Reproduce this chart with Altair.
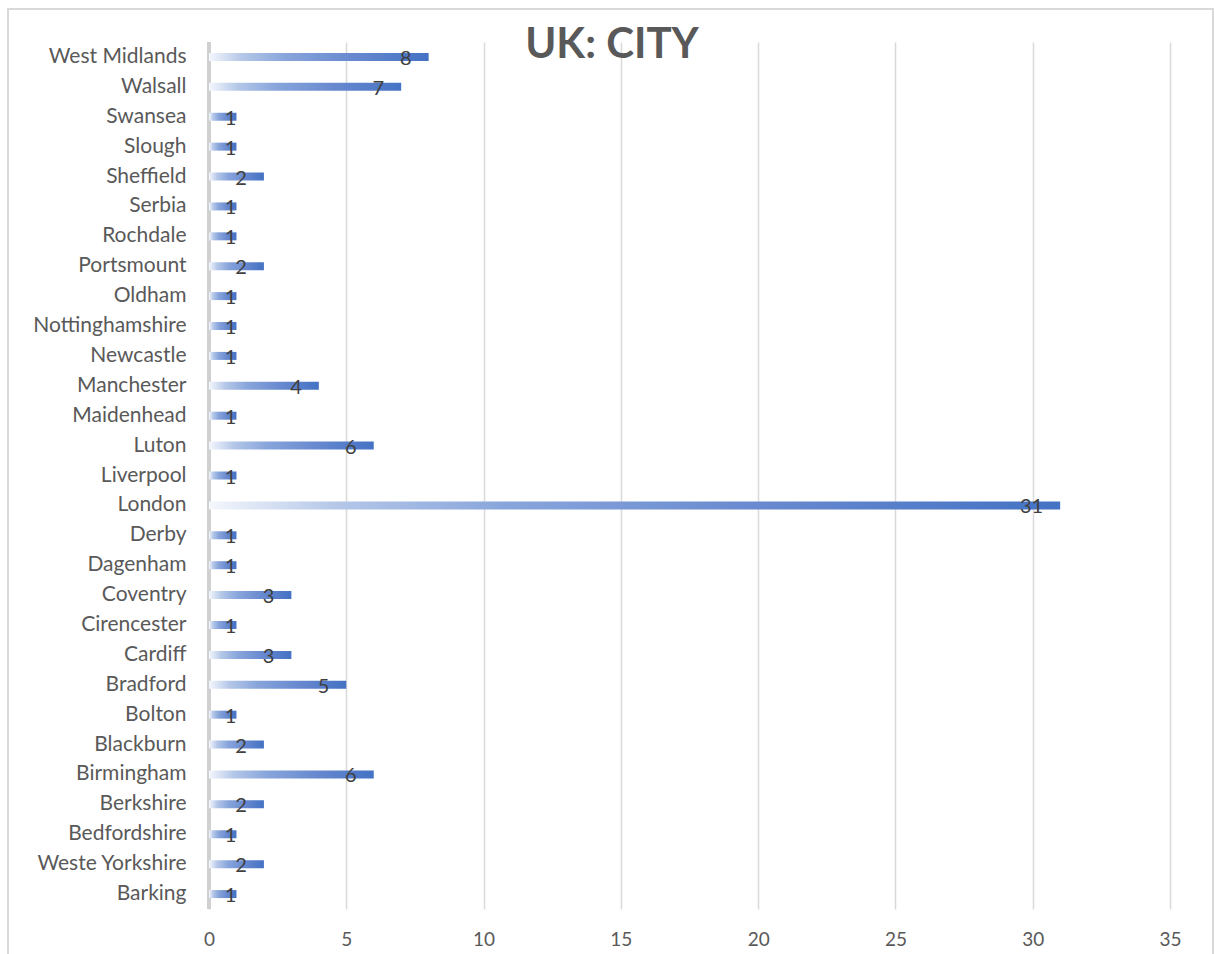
import altair as alt
import pandas as pd

cities = ["West Midlands", "Walsall", "Swansea", "Slough", "Sheffield", "Serbia",
          "Rochdale", "Portsmount", "Oldham", "Nottinghamshire", "Newcastle",
          "Manchester", "Maidenhead", "Luton", "Liverpool ", "London", "Derby",
          "Dagenham", "Coventry", "Cirencester", "Cardiff", "Bradford", "Bolton",
          "Blackburn", "Birmingham", "Berkshire", "Bedfordshire", "Weste Yorkshire",
          "Barking"]
counts = [8, 7, 1, 1, 2, 1, 1, 2, 1, 1, 1, 4, 1, 6, 1, 31, 1, 1, 3, 1, 3, 5, 1, 2, 6, 2, 1, 2, 1]
x_ticks = [0, 5, 10, 15, 20, 25, 30, 35]
title_text = "UK: CITY"

df = pd.DataFrame({"city": cities, "count": counts})

FONT = "Lato"
GREY = "#595959"

gradient = alt.Gradient(
    gradient="linear",
    stops=[
        alt.GradientStop(color="#f4f7fc", offset=0),
        alt.GradientStop(color="#b4c7e8", offset=0.15),
        alt.GradientStop(color="#88a5db", offset=0.35),
        alt.GradientStop(color="#6889cf", offset=0.65),
        alt.GradientStop(color="#4472c4", offset=1),
    ],
    x1=0, x2=1, y1=0, y2=0,
)

y_enc = alt.Y("city:N", sort=cities, title=None,
              axis=alt.Axis(labelFont=FONT, labelFontSize=21, labelColor=GREY,
                            labelPadding=23, ticks=False, domain=False, grid=False))
x_scale = alt.Scale(domain=[0, 35], nice=False)

bars = alt.Chart(df).mark_bar(color=gradient, size=8).encode(
    x=alt.X("count:Q", scale=x_scale, title=None,
            axis=alt.Axis(values=x_ticks, labelFont=FONT, labelFontSize=19,
                          labelColor=GREY, labelPadding=21, ticks=False,
                          labelFlush=False, domain=False, grid=True,
                          gridColor="#d9d9d9", gridWidth=1.5)),
    y=y_enc,
)

zero = alt.Chart(df).mark_rule(color="#d0d0d0", strokeWidth=3).encode(
    x=alt.datum(0, scale=x_scale), y=alt.value(0), y2=alt.value(867)
)

labels = alt.Chart(df).transform_calculate(
    lx="max(datum.count - 0.62, 1.0)"
).mark_text(font=FONT, fontSize=20, color="#404040", align="right",
            baseline="middle", dy=2).encode(
    x=alt.X("lx:Q", scale=x_scale),
    y=alt.Y("city:N", sort=cities),
    text="count:Q",
)

border = alt.Chart(df.head(1)).mark_rect(fill=None, stroke="#d9d9d9",
                                         strokeWidth=2).encode(
    x=alt.value(-201), x2=alt.value(1004), y=alt.value(-33), y2=alt.value(960)
)

title = alt.Chart(pd.DataFrame({"t": [title_text]})).mark_text(
    font=FONT, fontSize=42, fontWeight="bold", color=GREY,
    align="center", baseline="alphabetic"
).encode(x=alt.value(403), y=alt.value(16), text="t:N")

chart = alt.layer(border, zero, bars, labels, title).properties(
    width=961, height=867,
    background="white",
    padding={"left": 209, "top": 42, "right": 44, "bottom": 45},
    autosize=alt.AutoSizeParams(type="none"),
).configure_view(strokeWidth=0)

chart.save("out.html", embed_options={"renderer": "svg", "actions": False})
